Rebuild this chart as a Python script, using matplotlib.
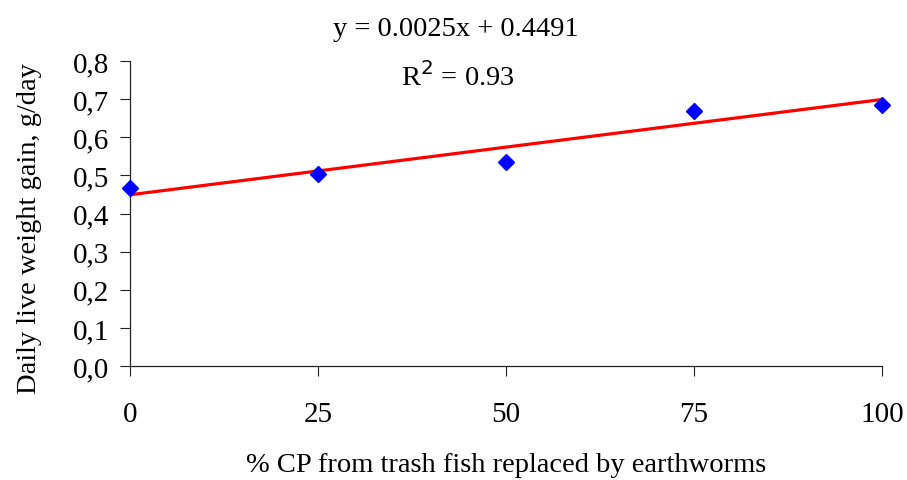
import matplotlib.pyplot as plt
import numpy as np

plt.rcParams['font.family'] = ['Liberation Serif', 'DejaVu Serif']

replaced = [0, 25, 50, 75, 100]
gain = [0.467, 0.504, 0.535, 0.669, 0.685]
slope = 0.0025
intercept = 0.4491
r2 = 0.93
yticks = [0.0, 0.1, 0.2, 0.3, 0.4, 0.5, 0.6, 0.7, 0.8]

fig = plt.figure(figsize=(9.07, 4.81), dpi=100)
ax = fig.add_axes([130 / 907, 1 - 367 / 481, 752 / 907, 305 / 481])

xs = np.array([0, 100])
ax.plot(xs, slope * xs + intercept, color='#ff0000', lw=2.3, zorder=2)
ax.plot(replaced, gain, 'D', color='#0000ff', ms=8, zorder=3, clip_on=False)

ax.set_xlim(0, 100)
ax.set_ylim(0, 0.8)
ax.set_xticks(replaced)
ax.set_yticks(yticks)
ax.set_yticklabels([f"{v:.1f}".replace('.', ',') for v in yticks])
ax.tick_params(axis='both', labelsize=21, direction='out', length=7, width=0.8, colors='#222222')
ax.tick_params(axis='x', pad=18, labelcolor='black')
ax.tick_params(axis='y', pad=8, labelcolor='black')

for s in ['top', 'right']:
    ax.spines[s].set_visible(False)
for s in ['left', 'bottom']:
    ax.spines[s].set_linewidth(0.9)
    ax.spines[s].set_color('#222222')

ax.set_xlabel("% CP from trash fish replaced by earthworms", fontsize=20.5, labelpad=18)
ax.set_ylabel("Daily live weight gain, g/day", fontsize=20.5)
ax.yaxis.set_label_coords(-0.117, 0.455)

fig.text(456 / 907, 1 - 30 / 481, f"y = {slope}x + {intercept}", fontsize=20.5,
         ha='center', va='center')
fig.text(458 / 907, 1 - 77 / 481, f"R$^2$ = {r2}", fontsize=20.5,
         ha='center', va='center')

fig.savefig("out.png", dpi=100)
